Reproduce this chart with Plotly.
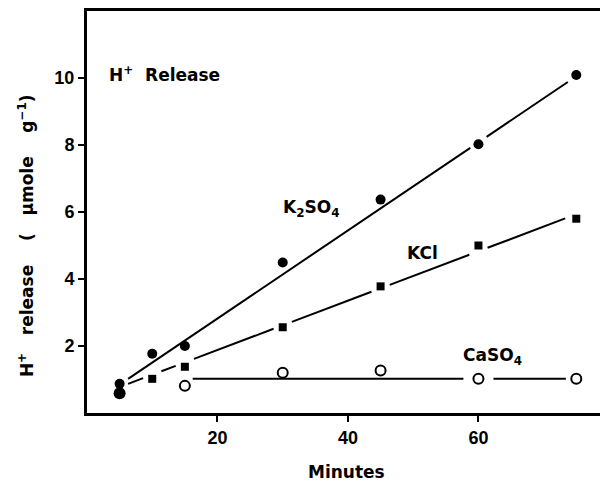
import plotly.graph_objects as go

# ---- data ----
minutes = [5, 10, 15, 30, 45, 60, 75]
k2so4 = [0.87, 1.77, 2.00, 4.49, 6.37, 8.02, 10.09]
kcl_x = [10, 15, 30, 45, 60, 75]
kcl = [1.02, 1.38, 2.56, 3.78, 5.00, 5.80]
caso4_x = [15, 30, 45, 60, 75]
caso4 = [0.81, 1.20, 1.27, 1.02, 1.02]
start_x = [5]
start_y = [0.59]

# fitted lines: intercept, slope, x-extent, gap positions
k2so4_fit = dict(a=0.19, b=0.1315, x0=6.3, x1=73.7, gaps=[60], half=1.25)
kcl_fit = dict(a=0.406, b=0.0737, x0=6.3, x1=73.3, gaps=[10, 15, 30, 45, 60], half=1.4)
caso4_fit = dict(a=1.02, b=0.0, x0=16.2, x1=73.4, gaps=[60], half=2.3)

x_ticks = [20, 40, 60]
y_ticks = [2, 4, 6, 8, 10]

TICKFONT = "Liberation Sans"
LABFONT = "DejaVu Sans"


def fit_segments(f):
    xs, ys = [], []
    edges = [f["x0"]]
    for g in f["gaps"]:
        edges += [g - f["half"], g + f["half"]]
    edges.append(f["x1"])
    for i in range(0, len(edges), 2):
        for xv in (edges[i], edges[i + 1]):
            xs.append(xv)
            ys.append(f["a"] + f["b"] * xv)
        xs.append(None)
        ys.append(None)
    return xs, ys


fig = go.Figure()
for f in (k2so4_fit, kcl_fit, caso4_fit):
    lx, ly = fit_segments(f)
    fig.add_trace(go.Scatter(x=lx, y=ly, mode="lines",
                             line=dict(color="black", width=2), hoverinfo="skip"))

fig.add_trace(go.Scatter(x=minutes, y=k2so4, mode="markers", name="K2SO4",
                         marker=dict(symbol="circle", size=10, color="black")))
fig.add_trace(go.Scatter(x=kcl_x, y=kcl, mode="markers", name="KCl",
                         marker=dict(symbol="square", size=8, color="black")))
fig.add_trace(go.Scatter(x=caso4_x, y=caso4, mode="markers", name="CaSO4",
                         marker=dict(symbol="circle-open", size=10, color="black",
                                     line=dict(width=2, color="black"))))
fig.add_trace(go.Scatter(x=start_x, y=start_y, mode="markers", name="start",
                         marker=dict(symbol="circle", size=12, color="black")))

lab = dict(family=LABFONT, size=17, color="black", weight="bold")
fig.add_annotation(x=3.05, y=10.12, xref="x", yref="y", text="H<sup>+</sup>\u00a0\u00a0Release",
                   showarrow=False, xanchor="left", yanchor="middle", font=lab)
fig.add_annotation(x=29.8, y=6.1, xref="x", yref="y", text="K<sub>2</sub>SO<sub>4</sub>",
                   showarrow=False, xanchor="left", yanchor="middle", font=lab)
fig.add_annotation(x=48.7, y=4.79, xref="x", yref="y", text="KCl",
                   showarrow=False, xanchor="left", yanchor="middle", font=lab)
fig.add_annotation(x=57.4, y=1.68, xref="x", yref="y", text="CaSO<sub>4</sub>",
                   showarrow=False, xanchor="left", yanchor="middle", font=lab)

# axis titles
fig.add_annotation(x=0.5, y=0, xref="paper", yref="paper", text="Minutes",
                   showarrow=False, xanchor="center", yanchor="middle", yshift=-59,
                   font=dict(family=LABFONT, size=17, color="black", weight="bold"))
fig.add_annotation(x=0, y=0.44, xref="paper", yref="paper",
                   text="H<sup>+</sup>\u00a0\u00a0\u00a0release\u00a0\u00a0\u00a0\u00a0(\u00a0\u00a0\u00a0\u03bcmole\u00a0\u00a0\u00a0\u00a0g<sup>\u22121</sup>)",
                   textangle=-90, showarrow=False, xanchor="center", yanchor="middle", xshift=-61,
                   font=dict(family=LABFONT, size=17, color="black", weight="bold"))

axis_common = dict(showline=True, linecolor="black", linewidth=3, mirror=True,
                   showgrid=False, zeroline=False, ticks="outside", ticklen=6,
                   tickwidth=2, tickcolor="black",
                   tickfont=dict(family=TICKFONT, size=18, color="black", weight="bold"))

fig.update_xaxes(range=[0, 79.4], tickvals=x_ticks, ticktext=[str(v) for v in x_ticks], **axis_common)
fig.update_yaxes(range=[0, 12], tickvals=y_ticks, ticktext=[str(v) for v in y_ticks], **axis_common)

# the page body adds an 8px margin, so the figure is 8px smaller on each offset side
fig.update_layout(width=600, height=474, showlegend=False,
                  plot_bgcolor="white", paper_bgcolor="white",
                  margin=dict(l=79, r=1, t=0, b=69))

fig.write_html("out.html")
